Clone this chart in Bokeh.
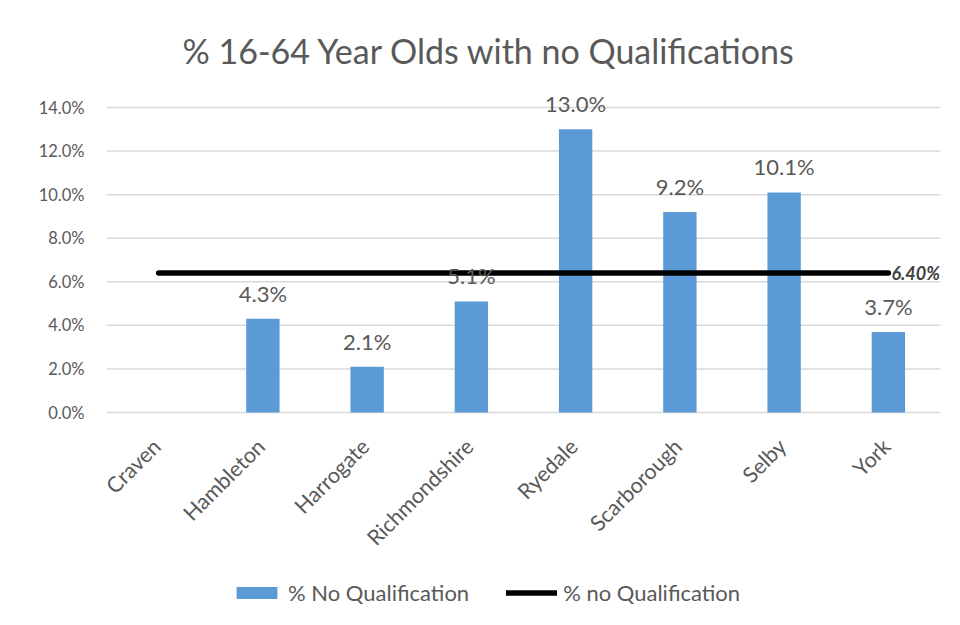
from bokeh.plotting import figure
from bokeh.models import (ColumnDataSource, LabelSet, Label, Legend, LegendItem,
                          FixedTicker, PrintfTickFormatter, Range1d)
from bokeh.core.properties import value
from bokeh.embed import file_html
from bokeh.resources import INLINE
import math

# ---- data ----
categories = ["Craven", "Hambleton", "Harrogate", "Richmondshire", "Ryedale", "Scarborough", "Selby", "York"]
pct_no_qual = [None, 4.3, 2.1, 5.1, 13.0, 9.2, 10.1, 3.7]
average_pct = 6.40
y_ticks = [0, 2, 4, 6, 8, 10, 12, 14]
title_text = "% 16-64 Year Olds with no Qualifications"
bar_series_name = "% No Qualification"
line_series_name = "% no Qualification"

FONT = "Lato"
GREY = "#595959"
BAR = "#5b9bd5"
GRID = "#d9d9d9"

W, H = 944, 609
LEFT = 106
n = len(categories)
# frame spans x 106..944 and y 0..609; scales chosen so the plot area matches the reference
cat_px = (940 - LEFT) / n
x_end = (W - LEFT) / cat_px
px_per_unit = (412 - 107) / 14.0
y_top = 412 / px_per_unit
y_bot = -(H - 412) / px_per_unit

p = figure(width=W, height=H, x_range=Range1d(0, x_end), y_range=Range1d(y_bot, y_top),
           output_backend="svg", toolbar_location=None,
           min_border_left=LEFT, min_border_right=0, min_border_top=0, min_border_bottom=0)
p.outline_line_color = None
p.background_fill_color = "white"
p.border_fill_color = "white"
p.xaxis.visible = False
p.xgrid.grid_line_color = None
p.ygrid.grid_line_color = None

xs = [i + 0.5 for i in range(n)]

# gridlines (plot area width)
gsrc = ColumnDataSource(dict(y=y_ticks, x0=[0] * len(y_ticks), x1=[n] * len(y_ticks)))
p.segment(x0="x0", y0="y", x1="x1", y1="y", source=gsrc, line_color=GRID, line_width=1.5)

bar_x = [x for x, v in zip(xs, pct_no_qual) if v is not None]
bar_vals = [v for v in pct_no_qual if v is not None]
src = ColumnDataSource(dict(x=bar_x, val=bar_vals, lab=["%.1f%%" % v for v in bar_vals]))
bars = p.vbar(x="x", top="val", width=0.32, source=src, fill_color=BAR, line_color=None)

lsrc = ColumnDataSource(dict(x=[xs[0], xs[-1]], y=[average_pct, average_pct]))
line = p.line(x="x", y="y", source=lsrc, line_color="black", line_width=5.5, line_cap="round")

labels = LabelSet(x="x", y="val", text="lab", source=src, text_align="center",
                  text_baseline="alphabetic", y_offset=17, text_font=value(FONT),
                  text_font_size="22px", text_color=GREY)
p.add_layout(labels)

# category labels, rotated like the reference axis
csrc = ColumnDataSource(dict(x=xs, y=[0] * n, t=categories))
cat_labels = LabelSet(x="x", y="y", text="t", source=csrc, angle=math.pi / 4,
                      text_align="right", text_baseline="middle", x_offset=-2, y_offset=-30,
                      text_font=value(FONT), text_font_size="21.5px", text_color=GREY)
p.add_layout(cat_labels)

avg_label = Label(x=xs[-1], y=average_pct, text="%.2f%%" % average_pct,
                  x_offset=3, text_baseline="middle", text_align="left", text_font=FONT,
                  text_font_size="18px", text_font_style="bold italic", text_color="#404040")
p.add_layout(avg_label)

title = Label(x=(489 - LEFT) / cat_px, y=(412 - 50) / px_per_unit, text=title_text,
              text_align="center", text_baseline="middle",
              text_font=FONT, text_font_size="34px", text_color=GREY)
p.add_layout(title)

# y axis
p.yaxis.ticker = FixedTicker(ticks=y_ticks)
p.yaxis.formatter = PrintfTickFormatter(format="%.1f%%")
p.yaxis.axis_line_color = None
p.yaxis.major_tick_line_color = None
p.yaxis.minor_tick_line_color = None
p.yaxis.major_tick_out = 0
p.yaxis.major_label_standoff = 22
p.yaxis.major_label_text_font = FONT
p.yaxis.major_label_text_font_size = "16.5px"
p.yaxis.major_label_text_color = GREY

legend = Legend(items=[LegendItem(label=bar_series_name, renderers=[bars]),
                       LegendItem(label=line_series_name, renderers=[line])],
                orientation="horizontal", location=(125, 3),
                glyph_width=51, glyph_height=15, label_standoff=6, spacing=37,
                padding=0, margin=0, border_line_color=None, background_fill_alpha=0,
                label_text_font=FONT, label_text_font_size="22px", label_text_color=GREY)
p.add_layout(legend)

open("out.html", "w").write(file_html(p, INLINE))
